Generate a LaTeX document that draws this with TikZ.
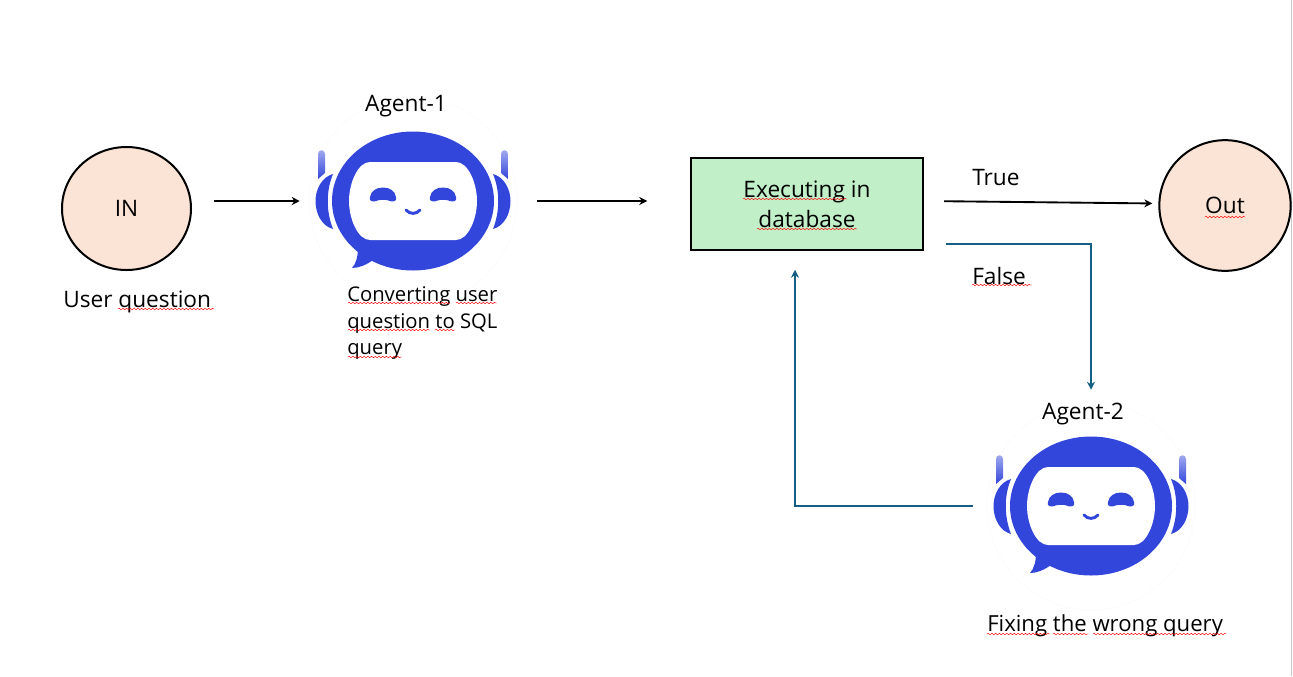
\documentclass[tikz,border=0pt]{standalone}
\usepackage{fontspec}
\setmainfont{Open Sans}
\usetikzlibrary{arrows.meta, decorations.pathmorphing, shapes.geometric}
\definecolor{robotblue}{HTML}{3346DC}
\definecolor{halo}{HTML}{FCFCFE}
\definecolor{peach}{HTML}{FBE3D6}
\definecolor{mint}{HTML}{C1F0C8}
\definecolor{teal}{HTML}{156082}
\tikzset{
    label text/.style={font=\fontsize{17}{20}\selectfont, inner sep=0pt, align=left},
    terminal/.style={ellipse, draw=black, line width=1.5pt, fill=peach, inner sep=0pt, font=\fontsize{17}{20}\selectfont},
    process/.style={rectangle, draw=black, line width=1.6pt, fill=mint, minimum width=174pt, minimum height=68.5pt, inner sep=0pt, align=center, font=\fontsize{17}{22.5}\selectfont},
    robot box/.style={minimum width=145.5pt, minimum height=105pt, inner sep=0pt},
    flow/.style={-{Stealth[length=6pt, width=6pt]}, line width=1.4pt, black},
    retry/.style={-{Stealth[length=6pt, width=6pt]}, line width=1.4pt, teal},
    squiggle/.style={red, line width=0.35pt, decorate, decoration={snake, amplitude=0.55pt, segment length=2.8pt}},
    robot/.pic={
        % Faint ring of the image
        \draw[halo, line width=1pt] (0,0) circle [radius=104];
        % Head with speech tail
        \fill[robotblue] (0,0) ellipse [x radius=81, y radius=69.5];
        \fill[robotblue] (-55,47) .. controls (-55,55) and (-57,63) .. (-61,67) .. controls (-54,67) and (-47,64) .. (-40,59) -- cycle;
        % Face
        \fill[white] (-43,-39) -- (43,-39) .. controls (55,-39) and (64,-18) .. (64,0) .. controls (64,18) and (55,39) .. (43,39) -- (-43,39) .. controls (-55,39) and (-64,18) .. (-64,0) .. controls (-64,-18) and (-55,-39) .. (-43,-39) -- cycle;
        % Eyes
        \foreach \side in {-1,1} {
            \begin{scope}[xscale=\side]
                \fill[robotblue] (17,-4) .. controls (18,-10) and (23,-13.5) .. (30,-13.5) .. controls (37,-13.5) and (42,-10) .. (43,-4) .. controls (44,0) and (41,0.8) .. (38,0.3) .. controls (33,-1.8) and (27,-1.8) .. (22,0.3) .. controls (19,0.8) and (16,0) .. (17,-4) -- cycle;
                % Ears
                \fill[robotblue] (80,-27) .. controls (91,-24) and (97.5,-12) .. (97.5,0) .. controls (97.5,13) and (91,25) .. (80,28) .. controls (87,10) and (87,-10) .. (80,-27) -- cycle;
                % Antennas
                \shade[top color=robotblue!45, bottom color=robotblue] (88,-47) .. controls (88,-52) and (95,-52) .. (95,-47) -- (95,-22) -- (88,-28) -- cycle;
            \end{scope}
        }
        % Mouth
        \draw[robotblue, line width=2.2pt, line cap=round] (-7,9) .. controls (-3,13.5) and (3,13.5) .. (7,9);
    }
}
\begin{document}
\begin{tikzpicture}[x=0.75pt, y=-0.75pt]
    \useasboundingbox (0,0) rectangle (1293,676);

    % Window edge
    \draw[black!22, line width=0.8pt] (1291.5,0) -- (1291.5,676);

    % Main nodes
    \node[terminal, minimum width=96.75pt, minimum height=92.25pt] (in) at (126.5,208.5) {IN};
    \node[terminal, minimum width=98.5pt, minimum height=98pt] (out) at (1225,205.5) {Out};
    \node[process] (box) at (807,204) {Executing in\\database};
    \node[robot box] (agent1) at (413,201) {};
    \node[robot box] (agent2) at (1091,506) {};

    % Robots
    \pic at (agent1) {robot};
    \pic at (agent2) {robot};

    % Labels
    \node[label text] (agent1 name) at (406,106) {Agent-1};
    \node[label text] (agent2 name) at (1083,414.5) {Agent-2};
    \node[label text, anchor=west] (in note) at (63,302) {User question};
    \node[label text, anchor=north west, font=\fontsize{15.2}{20}\selectfont] (agent1 note) at (347,286.5) {Converting user\\question to SQL\\query};
    \node[label text, anchor=west, font=\fontsize{16.6}{20}\selectfont] (agent2 note) at (987,626) {Fixing the wrong query};
    \node[label text, anchor=west] (true label) at (972,178) {True};
    \node[label text, anchor=west] (false label) at (972,275.5) {False};

    % Black arrows
    \draw[flow, shorten <=16.5pt, shorten >=12pt] (in.east |- agent1) -- (agent1.west);
    \draw[flow, shorten <=20pt, shorten >=32pt] (agent1.east) -- (box.west |- agent1);
    \draw[flow, shorten <=15pt, shorten >=4.5pt] (box.east |- agent1) -- ([yshift=1.5pt]out.west);

    % Teal arrows
    \draw[retry, shorten <=16.5pt, shorten >=34.5pt] ([yshift=5.25pt]box.south east) -| (agent2.north);
    \draw[retry, shorten <=15.75pt, shorten >=14.25pt] (agent2.west) -| ([xshift=-9pt]box.south);

    % Spell check marks
    \foreach \xa/\xb/\ya in {118/214/309, 348/450/303, 456/497/303, 348/430/330, 435/455/330, 348/402/357, 743/847/199, 757/857/229, 972/1032/285, 1205/1245/217, 987/1050/634, 1053/1088/634, 1093/1226/634}
        \draw[squiggle] (\xa,\ya) -- (\xb,\ya);
\end{tikzpicture}
\end{document}
